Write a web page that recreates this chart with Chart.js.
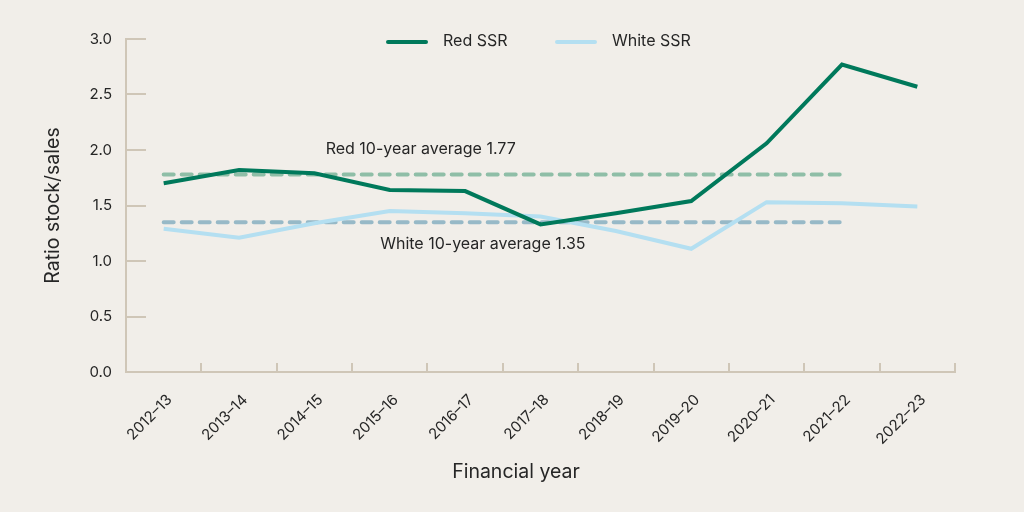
<!DOCTYPE html>
<html>
<head>
<meta charset="utf-8">
<script src="https://cdn.jsdelivr.net/npm/chart.js@4/dist/chart.umd.min.js"></script>
<style>
  html, body { margin: 0; padding: 0; background: #f1eee9; }
  #wrap { width: 1024px; height: 512px; }
</style>
</head>
<body>
<div id="wrap"><canvas id="ssrChart" width="1024" height="512"></canvas></div>
<script>
// Data
const categories = ['2012–13', '2013–14', '2014–15', '2015–16', '2016–17', '2017–18',
                    '2018–19', '2019–20', '2020–21', '2021–22', '2022–23'];
const redSSR   = [1.70, 1.82, 1.79, 1.64, 1.63, 1.33, 1.43, 1.54, 2.06, 2.77, 2.57];
const whiteSSR = [1.29, 1.21, 1.34, 1.45, 1.43, 1.40, 1.27, 1.11, 1.53, 1.52, 1.49];
const redAverage   = [1.78, 1.78, 1.78, 1.78, 1.78, 1.78, 1.78, 1.78, 1.78, 1.78, null];
const whiteAverage = [1.35, 1.35, 1.35, 1.35, 1.35, 1.35, 1.35, 1.35, 1.35, 1.35, null];
const yTicks = [0, 0.5, 1.0, 1.5, 2.0, 2.5, 3.0];
const averageLabels = ['Red 10-year average 1.77', 'White 10-year average 1.35'];
const xTitle = 'Financial year';

const FONT = 'Inter, "Noto Sans", sans-serif';
const TEXT = '#262626';
const AXIS = '#cfc6b7';
const RED = '#00795b';
const WHITE = '#b4dff1';

// inward tick marks, annotation text, x title and the legend
const extras = {
    id: 'extras',
    beforeDatasetsDraw(chart) {
        const { ctx, chartArea: a, scales: { y } } = chart;
        ctx.save();
        ctx.strokeStyle = AXIS;
        ctx.lineWidth = 2;
        ctx.beginPath();
        y.ticks.forEach(t => {
            const py = Math.round(y.getPixelForValue(t.value));
            ctx.moveTo(a.left, py);
            ctx.lineTo(a.left + 20, py);
        });
        const step = (a.right - a.left) / categories.length;
        for (let i = 1; i <= categories.length; i++) {
            const px = Math.round(a.left + i * step);
            ctx.moveTo(px, a.bottom);
            ctx.lineTo(px, a.bottom - 9);
        }
        ctx.stroke();
        ctx.restore();
    },
    afterDatasetsDraw(chart) {
        const { ctx, scales: { x, y } } = chart;
        ctx.save();
        ctx.font = '16px ' + FONT;
        ctx.fillStyle = TEXT;
        ctx.textAlign = 'center';
        ctx.textBaseline = 'middle';
        ctx.fillText(averageLabels[0], x.getPixelForValue(3.41), y.getPixelForValue(2.01));
        ctx.fillText(averageLabels[1], x.getPixelForValue(4.235), y.getPixelForValue(1.15));

        // x axis title
        ctx.font = '19.5px ' + FONT;
        ctx.fillText(xTitle, 516, 472);

        // legend
        const items = [
            { ds: chart.data.datasets[0], x0: 386 },
            { ds: chart.data.datasets[1], x0: 555 }
        ];
        ctx.font = '16px ' + FONT;
        ctx.textAlign = 'left';
        ctx.lineCap = 'round';
        ctx.lineWidth = 4;
        items.forEach(it => {
            ctx.strokeStyle = it.ds.borderColor;
            ctx.beginPath();
            ctx.moveTo(it.x0 + 2, 42);
            ctx.lineTo(it.x0 + 40, 42);
            ctx.stroke();
            ctx.fillText(it.ds.label, it.x0 + 57, 41);
        });
        ctx.restore();
    }
};

const ctx = document.getElementById('ssrChart').getContext('2d');
new Chart(ctx, {
    type: 'line',
    data: {
        labels: categories,
        datasets: [
            { label: 'Red SSR', data: redSSR, borderColor: RED, borderWidth: 4, pointRadius: 0, tension: 0 },
            { label: 'White SSR', data: whiteSSR, borderColor: WHITE, borderWidth: 4, pointRadius: 0, tension: 0 },
            { label: 'Red average', data: redAverage, borderColor: '#8fbea7', borderWidth: 4,
              borderDash: [10, 8], borderCapStyle: 'round', pointRadius: 0 },
            { label: 'White average', data: whiteAverage, borderColor: '#97b9c7', borderWidth: 4,
              borderDash: [10, 8], borderCapStyle: 'round', pointRadius: 0 }
        ]
    },
    options: {
        responsive: false,
        animation: false,
        layout: { padding: { left: 0, right: 69, top: 39, bottom: 0 } },
        plugins: {
            legend: { display: false },
            tooltip: { enabled: false }
        },
        scales: {
            x: {
                offset: true,
                grid: { display: false, drawTicks: false, offset: true },
                border: { color: AXIS, width: 2 },
                ticks: {
                    color: TEXT, font: { family: FONT, size: 15 },
                    minRotation: 45, maxRotation: 45, padding: 19, labelOffset: 6, autoSkip: false
                },
                afterFit(scale) { scale.height = 140; }
            },
            y: {
                min: 0, max: 3,
                afterBuildTicks(scale) { scale.ticks = yTicks.map(v => ({ value: v })); },
                grid: { display: false, drawTicks: false },
                border: { color: AXIS, width: 2 },
                ticks: {
                    color: TEXT, font: { family: FONT, size: 15 }, padding: 14,
                    callback: v => Number(v).toFixed(1)
                },
                title: {
                    display: true, text: 'Ratio stock/sales', color: TEXT,
                    font: { family: FONT, size: 19.5 }, padding: { top: 41, bottom: 0 }
                },
                afterFit(scale) { scale.width = 126; }
            }
        }
    },
    plugins: [extras]
});
</script>
</body>
</html>
